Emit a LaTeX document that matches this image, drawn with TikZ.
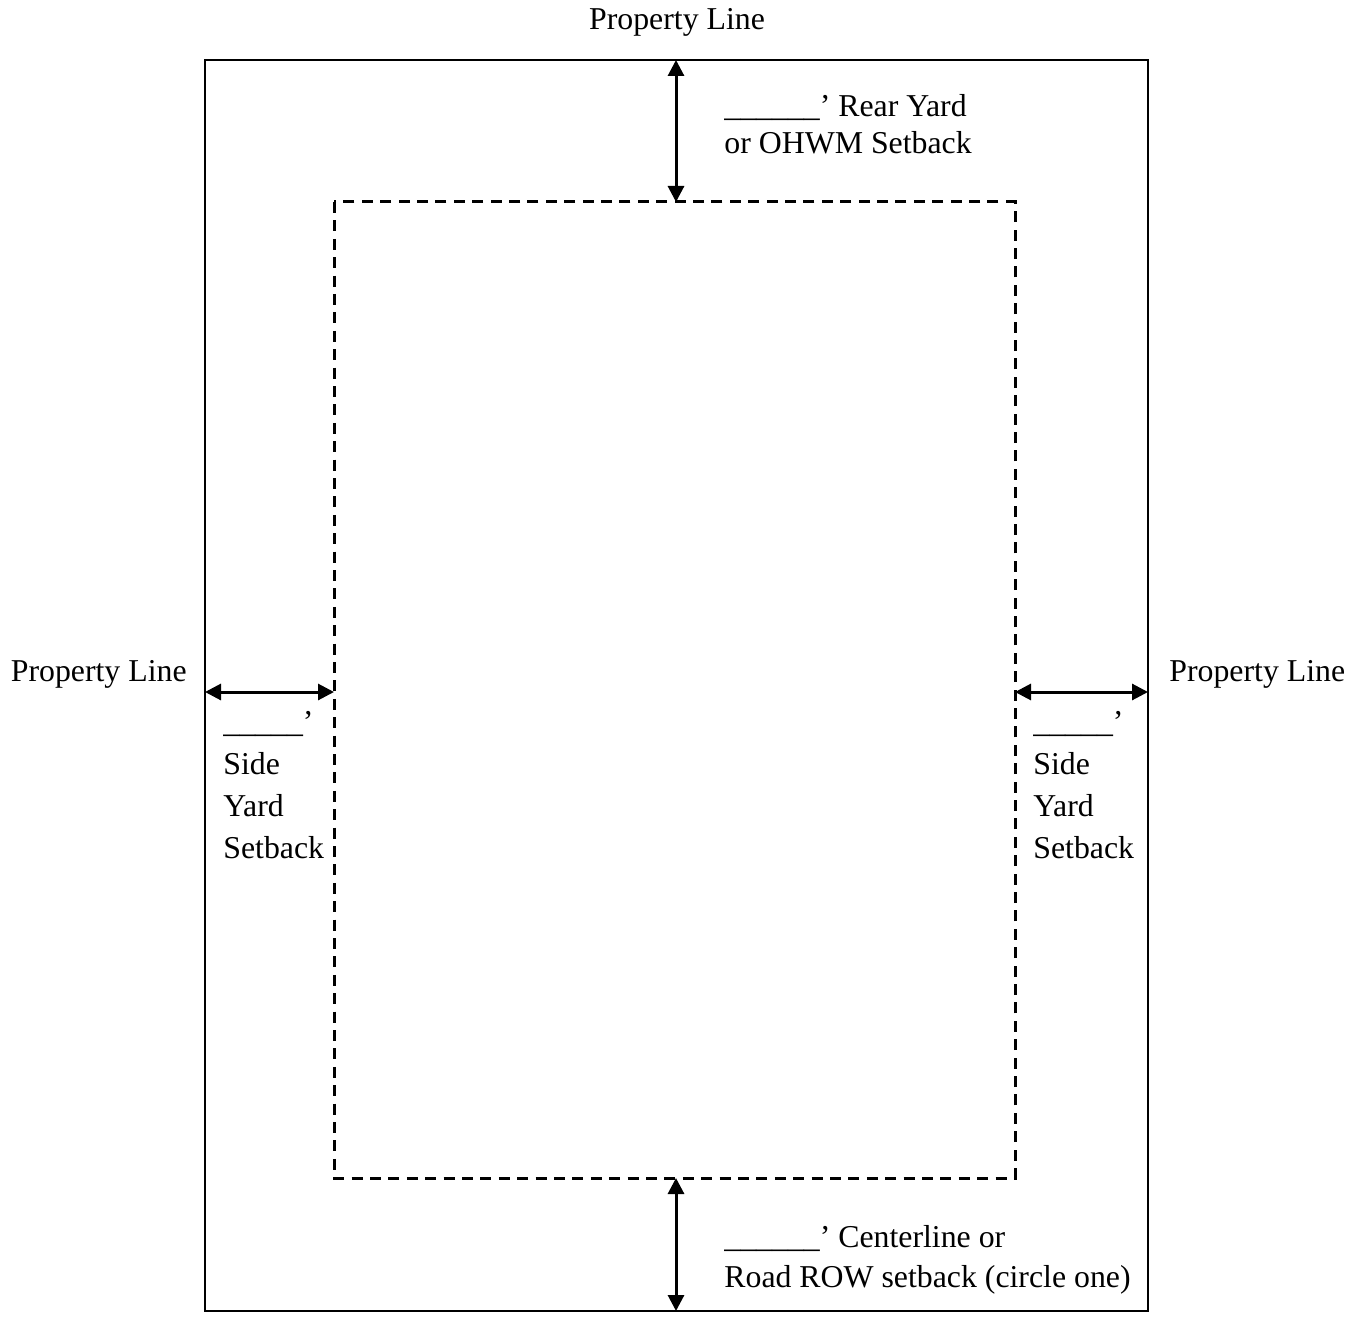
\documentclass[tikz,border=0pt]{standalone}
\usepackage{fontspec}
\setmainfont{Liberation Serif}
\usetikzlibrary{arrows.meta,positioning}

\begin{document}
\begin{tikzpicture}[x=0.5pt,y=-0.5pt,
        lot/.style = {draw, line width=1.1pt},
        setback/.style = {draw, line width=1.5pt, dash pattern=on 5.5pt off 3.7pt},
        dim/.style = {line width=1.5pt, {Triangle[length=8pt,width=8pt]}-{Triangle[length=8pt,width=8pt]}},
        note/.style = {anchor=base west, inner sep=0pt, align=left},
        title/.style = {anchor=base, inner sep=0pt},
        font=\fontsize{15.9}{18.5}\selectfont]
        \useasboundingbox (0,0) rectangle (1360,1321);

        \draw[lot] (205,60) rectangle (1148,1311);
        \draw[setback] (334,202) rectangle (1015,1178);

        \coordinate (rear pl) at (676,60);
        \coordinate (rear sb) at (676,202);
        \coordinate (front pl) at (676,1311);
        \coordinate (front sb) at (676,1178);
        \coordinate (left pl) at (205,692);
        \coordinate (left sb) at (334,692);
        \coordinate (right pl) at (1148,692);
        \coordinate (right sb) at (1015,692);

        \draw[dim] (rear pl) -- (rear sb);
        \draw[dim] (front sb) -- (front pl);
        \draw[dim] (left pl) -- (left sb);
        \draw[dim] (right sb) -- (right pl);

        \node[title] (top line) at (677,30) {Property Line};
        \node[title, anchor=base east] (left line) at (187,681) {Property Line};
        \node[title, anchor=base west] (right line) at (1169,681) {Property Line};

        % base anchor sits on the last line
        \node[note] (rear) at (724,154) {\_\_\_\_\_\_’ Rear Yard\\or OHWM Setback};
        \node[note, font=\fontsize{15.9}{21}\selectfont] (left side) at (223,858) {\_\_\_\_\_’\\Side\\Yard\\Setback};
        \node[note, font=\fontsize{15.9}{21}\selectfont] (right side) at (1033,858) {\_\_\_\_\_’\\Side\\Yard\\Setback};
        \node[note, font=\fontsize{15.9}{20}\selectfont] (road) at (724,1287) {\_\_\_\_\_\_’ Centerline or\\Road ROW setback (circle one)};

\end{tikzpicture}
\end{document}
